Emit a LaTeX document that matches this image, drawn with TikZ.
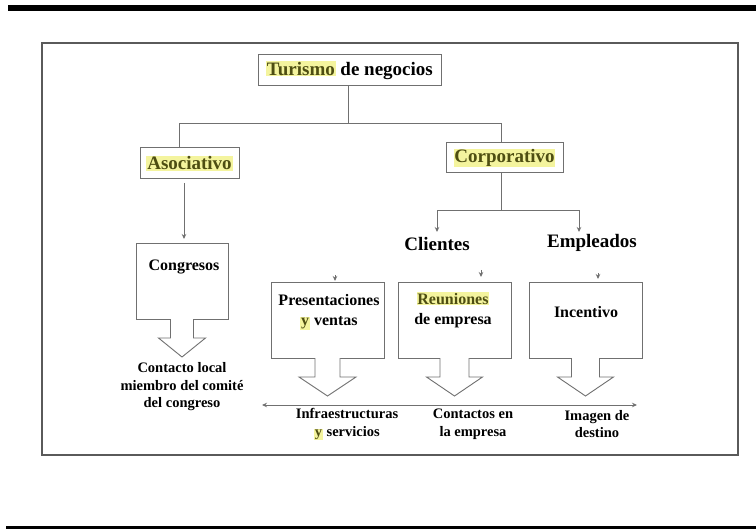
\documentclass[tikz,border=0pt]{standalone}
\usepackage{fontspec}
\setmainfont{Liberation Serif}
\usepackage{tikz}
\usetikzlibrary{calc,positioning,arrows.meta}

\definecolor{hlyellow}{HTML}{F4F49E}
\definecolor{hltext}{HTML}{4E4E12}
\definecolor{linegray}{HTML}{707070}
\newcommand{\hl}[1]{{\setlength{\fboxsep}{0.8pt}\colorbox{hlyellow}{\color{hltext}#1}}}
\newcommand{\blkarrow}[3]{%
  \draw[ln, fill=white] ($(#1.south)+(-#2,-0.9)$) -- ($(#1.south)+(-#2,18)$)
    -- ($(#1.south)+(-#3,18)$) -- ($(#1.south)+(0,37)$)
    -- ($(#1.south)+(#3,18)$) -- ($(#1.south)+(#2,18)$) -- ($(#1.south)+(#2,-0.9)$);}

\begin{document}
\begin{tikzpicture}[x=1pt,y=-1pt]
            \tikzset{ln/.style={draw=linegray, line width=0.9pt},
                     arr/.style={ln, -{Stealth[length=5pt,width=4.5pt]}},
                     dblarr/.style={ln, {Stealth[length=5pt,width=4.5pt]}-{Stealth[length=5pt,width=4.5pt]}},
                     topbox/.style={draw=linegray, line width=1pt, inner sep=0pt, outer sep=0pt,
                                    font=\fontsize{19}{21}\selectfont\bfseries},
                     emptybox/.style={draw=linegray, line width=1pt, inner sep=0pt, outer sep=0pt,
                                      minimum width=113pt, minimum height=76pt},
                     boxtext/.style={align=center, inner sep=1pt, font=\fontsize{16}{20}\selectfont\bfseries},
                     outtext/.style={align=center, inner sep=1pt, font=\fontsize{14.5}{17.5}\selectfont\bfseries},
                     grouptext/.style={inner sep=1pt, font=\fontsize{19}{21}\selectfont\bfseries}}
            \useasboundingbox (0,0) rectangle (756,529);
            \fill[black] (8,5) rectangle (756,11);
            \fill[black] (6,526) rectangle (756,529);
            \draw[draw=linegray!80!black, line width=1.4pt] (42,43) rectangle (738,455);

            \node[topbox, minimum width=183pt, minimum height=31pt] (turismo) at (349.5,70.5) {\hl{Turismo} de negocios};
            \node[topbox, minimum width=99pt, minimum height=31pt] (asoc) at (189.5,163.5) {\hl{Asociativo}};
            \node[topbox, minimum width=117pt, minimum height=30pt] (corp) at (504.5,158) {\hl{Corporativo}};

            \coordinate (hub) at ($(turismo.south)+(-1.5,37)$);
            \draw[ln] ([xshift=-1.5pt]turismo.south) -- (hub);
            \draw[ln] (hub) -| ([xshift=-10.5pt]asoc.north);
            \draw[ln] (hub) -| ([xshift=-3.5pt]corp.north);

            \node[emptybox, minimum width=92pt] (congr) at (182,282) {};
            \node[boxtext] (congrt) at (184,267) {Congresos};
            \draw[arr] ([xshift=-5.5pt,yshift=-4pt]asoc.south) -- ([xshift=2pt,yshift=5pt]congr.north);
            \blkarrow{congr}{11.5}{23.5}
            \node[outtext] (contacto) at (182,387) {Contacto local\\miembro del comité\\del congreso};

            \coordinate (split) at ($(corp.south)+(-3.5,37)$);
            \coordinate (cl) at (437,232);
            \coordinate (em) at (579,232);
            \draw[ln] ([xshift=-3.5pt]corp.south) -- (split);
            \draw[arr] (split) -| (cl);
            \draw[arr] (split) -| (em);
            \node[grouptext, below=4pt of cl] (clientes) {Clientes};
            \node[grouptext, below=1pt of em, xshift=13pt] (empleados) {Empleados};

            \node[emptybox] (pres) at (327.5,321) {};
            \node[emptybox] (reun) at (454.5,321) {};
            \node[emptybox] (incent) at (585.5,321) {};
            \node[boxtext] (prest) at (329,312) {Presentaciones\\\hl{y} ventas};
            \node[boxtext] (reunt) at (453,310) {\hl{Reuniones}\\de empresa};
            \node[boxtext] (incentt) at (586,312) {Incentivo};

            \draw[arr] ([xshift=7.5pt,yshift=8pt]pres.north) -- ([xshift=7.5pt,yshift=2pt]pres.north);
            \draw[arr] ([xshift=26.5pt,yshift=13pt]reun.north) -- ([xshift=26.5pt,yshift=6pt]reun.north);
            \draw[arr] ([xshift=12.5pt,yshift=10pt]incent.north) -- ([xshift=12.5pt,yshift=4pt]incent.north);

            \blkarrow{pres}{12.5}{28.5}
            \blkarrow{reun}{14.5}{28}
            \blkarrow{incent}{14}{28}

            \coordinate (lend) at (262,405);
            \coordinate (rend) at (637,405);
            \draw[dblarr] (lend) -- (rend);
            \node[outtext] (infra) at (347,424.5) {Infraestructuras\\\hl{y} servicios};
            \node[outtext] (contactos) at (473,424) {Contactos en\\la empresa};
            \node[outtext] (imagen) at (597,424) {Imagen de\\destino};
\end{tikzpicture}
\end{document}
